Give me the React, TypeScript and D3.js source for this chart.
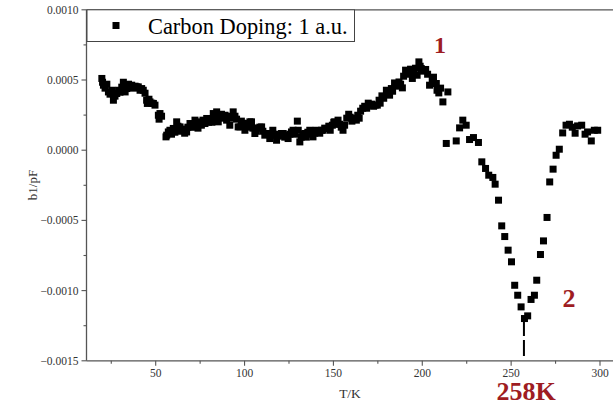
import React from "react";
import * as d3 from "d3";

const temps = [
  19.7, 20.1, 20.6, 21.5, 22.5, 23.4, 24.3, 25.3, 26.2, 27.1, 28.1, 29.1, 29.9, 30.9, 31.8, 32.8, 33.7, 34.7, 35.6, 36.5,
  37.5, 38.4, 39.3, 40.2, 41.2, 42.1, 43.0, 44.0, 44.9, 45.3, 46.2, 46.8, 47.8, 48.7, 49.6, 51.5, 51.9, 52.4, 53.3, 55.8,
  56.2, 57.1, 58.0, 58.9, 59.9, 60.8, 61.8, 62.5, 63.7, 64.5, 65.3, 66.3, 67.4, 68.1, 69.3, 70.1, 71.1, 72.1, 72.9, 73.8,
  74.9, 75.7, 76.6, 77.7, 78.7, 79.7, 80.5, 81.6, 82.4, 83.3, 84.3, 85.2, 86.1, 87.0, 87.8, 89.0, 89.9, 90.9, 91.7, 92.6,
  93.6, 94.6, 95.5, 96.4, 97.4, 98.2, 99.0, 100.2, 101.1, 102.1, 103.0, 103.9, 104.7, 105.8, 106.6, 107.5, 108.6, 109.6, 110.3, 111.4,
  112.4, 113.3, 114.2, 115.1, 115.9, 117.0, 118.0, 119.0, 119.8, 120.8, 121.7, 122.6, 123.6, 124.5, 125.5, 126.4, 127.3, 128.3, 129.7, 130.2,
  131.1, 131.9, 132.8, 133.9, 134.7, 135.6, 136.7, 137.5, 138.5, 139.5, 140.3, 141.3, 142.3, 143.3, 144.2, 145.1, 146.4, 147.4, 148.2, 149.4,
  150.2, 150.7, 151.6, 152.6, 153.5, 154.4, 155.4, 156.3, 157.5, 158.6, 159.4, 160.4, 161.4, 162.9, 163.7, 164.5, 165.3, 166.5, 167.6, 168.7,
  169.6, 170.4, 171.5, 172.6, 173.5, 174.7, 175.7, 176.3, 177.3, 178.3, 179.8, 180.8, 181.6, 182.6, 183.3, 184.4, 185.6, 186.9, 187.8, 188.8,
  189.5, 190.6, 191.7, 192.9, 193.4, 194.4, 195.1, 196.2, 197.1, 198.1, 198.8, 199.4, 200.7, 201.9, 203.0, 204.1, 205.6, 206.3, 207.9, 208.3,
  209.3, 210.3, 211.6, 213.5, 214.4, 219.1, 221.0, 222.8, 224.7, 226.6, 228.8, 231.6, 233.5, 235.6, 237.4, 239.7, 241.0, 242.9, 244.7, 246.4,
  248.3, 250.2, 252.0, 253.7, 255.6, 257.5, 259.3, 261.2, 263.1, 264.4, 266.5, 268.2, 270.2, 271.7, 273.6, 275.3, 277.1, 279.0, 280.9, 282.8,
  284.4, 286.0, 287.4, 289.7, 291.6, 293.0, 295.1, 296.8, 298.7,
];

// b1 values in units of 1e-4 pF
const b1e4 = [
  5.11, 4.84, 4.63, 4.42, 4.70, 4.15, 3.99, 4.27, 3.56, 3.85, 4.04, 4.27, 4.13, 4.49, 4.84, 4.15, 4.39, 4.70, 4.49, 4.63,
  4.42, 4.56, 4.51, 4.51, 4.27, 4.39, 4.27, 4.06, 3.56, 3.33, 3.63, 3.44, 3.35, 3.33, 3.21, 2.49, 2.21, 2.61, 2.42, 0.95,
  1.07, 1.30, 1.42, 1.14, 1.55, 1.28, 2.02, 1.71, 1.66, 1.35, 1.50, 1.21, 1.30, 1.64, 1.90, 1.64, 1.66, 2.14, 1.85, 1.57,
  2.02, 1.78, 2.14, 1.90, 2.26, 1.99, 2.21, 1.99, 2.61, 2.42, 2.73, 2.02, 2.35, 2.56, 2.28, 2.49, 2.14, 2.42, 1.78, 2.28,
  2.73, 2.42, 2.21, 1.66, 1.66, 2.07, 1.92, 1.42, 1.90, 1.64, 2.02, 2.02, 1.57, 1.19, 1.35, 1.57, 1.64, 1.66, 1.35, 1.07,
  1.19, 1.19, 0.83, 1.07, 1.42, 1.14, 0.71, 1.00, 1.07, 1.19, 1.19, 0.93, 1.07, 0.83, 1.14, 1.30, 1.42, 1.14, 2.07, 1.42,
  0.59, 0.93, 1.14, 1.19, 0.93, 1.28, 1.42, 1.14, 0.95, 1.21, 1.42, 1.30, 1.21, 1.42, 1.42, 1.57, 1.55, 1.71, 1.42, 1.78,
  1.99, 2.02, 1.85, 2.14, 1.85, 1.64, 1.42, 1.78, 2.28, 2.56, 2.35, 2.07, 2.28, 2.14, 2.49, 2.28, 2.78, 2.99, 3.13, 2.99,
  3.35, 3.21, 3.28, 3.13, 3.21, 3.21, 3.56, 3.35, 3.87, 3.70, 4.27, 4.06, 3.92, 4.39, 4.20, 4.79, 4.56, 4.86, 4.70, 4.44,
  5.27, 5.70, 5.41, 5.46, 5.77, 5.11, 5.48, 5.84, 5.34, 6.29, 5.98, 5.82, 5.63, 5.75, 5.41, 4.63, 4.99, 5.20, 4.75, 4.27,
  4.08, 4.42, 3.44, 0.48, 4.15, 0.66, 1.59, 2.14, 1.78, 0.76, 0.90, 0.55, -0.83, -1.30, -1.78, -1.94, -2.42, -3.56, -5.39, -6.15,
  -7.12, -7.95, -9.62, -10.33, -11.16, -11.99, -11.80, -10.63, -10.33, -9.26, -7.43, -6.46, -4.79, -2.26, -1.35, -0.36, 0.07, 1.23, 1.78, 1.85,
  1.64, 1.21, 1.73, 1.78, 1.14, 1.30, 0.66, 1.42, 1.42,
];

const yMajor = [0.001, 0.0005, 0, -0.0005, -0.001, -0.0015];
const yMinor = [0.00075, 0.00025, -0.00025, -0.00075, -0.00125];
const xMajor = [50, 100, 150, 200, 250, 300];
const xMinor = [25, 75, 125, 175, 225, 275, 325];
const yLabels = ["0.0010", "0.0005", "0.0000", "\u22120.0005", "\u22120.0010", "\u22120.0015"];
const legendLabel = "Carbon Doping: 1 a.u.";
const markerT = 257.2;

export default function App() {
  const W = 613, H = 406;
  const left = 86.5, top = 9.8, bottom = 360.8;
  const x = d3.scaleLinear().domain([50, 300]).range([155.7, 600]);
  const y = d3.scaleLinear().domain([0.001, -0.0015]).range([top, bottom]);
  const right = x(330);
  const axisColor = "#555";
  const red = "#9e1c22";
  const serif = "'Liberation Serif', 'Times New Roman', serif";
  const ms = 7;

  return (
    <svg width={W} height={H} style={{ position: "absolute", left: 0, top: 0, background: "#fff" }} fontFamily={serif}>
      <rect x={0} y={0} width={W} height={H} fill="#fff" />
      {/* frame */}
      <line x1={left} x2={right} y1={top} y2={top} stroke={axisColor} strokeWidth={1.3} />
      <line x1={left} x2={left} y1={top} y2={bottom} stroke={axisColor} strokeWidth={1.3} />
      <line x1={left} x2={right} y1={bottom} y2={bottom} stroke={axisColor} strokeWidth={1.3} />
      {/* y ticks */}
      {yMajor.map((v, i) => (
        <g key={"ym" + i}>
          <line x1={left - 5} x2={left} y1={y(v)} y2={y(v)} stroke={axisColor} strokeWidth={1.1} />
          <text x={left - 8} y={y(v)} dy="0.35em" textAnchor="end" fontSize={11.5} fill="#333">
            {yLabels[i]}
          </text>
        </g>
      ))}
      {yMinor.map((v, i) => (
        <line key={"yn" + i} x1={left - 3} x2={left} y1={y(v)} y2={y(v)} stroke={axisColor} strokeWidth={1.1} />
      ))}
      {/* x ticks */}
      {xMajor.map((t, i) => (
        <g key={"xm" + i}>
          <line x1={x(t)} x2={x(t)} y1={bottom} y2={bottom + 5} stroke={axisColor} strokeWidth={1.1} />
          <text x={x(t)} y={bottom + 16.5} textAnchor="middle" fontSize={11.5} fill="#333">
            {t}
          </text>
        </g>
      ))}
      {xMinor.map((t, i) => (
        <line key={"xn" + i} x1={x(t)} x2={x(t)} y1={bottom} y2={bottom + 3} stroke={axisColor} strokeWidth={1.1} />
      ))}
      {/* axis titles */}
      <text x={350} y={398} textAnchor="middle" fontSize={13.5} fill="#333">T/K</text>
      <text transform="translate(37,185) rotate(-90)" textAnchor="middle" fontSize={13} fill="#333">b1/pF</text>
      {/* points */}
      {temps.map((t, i) => (
        <rect key={"p" + i} x={x(t) - ms / 2} y={y(b1e4[i] * 1e-4) - ms / 2} width={ms} height={ms} fill="#000" />
      ))}
      {/* dashed marker */}
      <line x1={x(markerT)} x2={x(markerT)} y1={y(-0.00121)} y2={y(-0.00147)} stroke="#000" strokeWidth={2} strokeDasharray="16,4" />
      {/* legend */}
      <rect x={left + 0.5} y={top} width={354 - left} height={31.7} fill="#fff" stroke="#444" strokeWidth={1} />
      <rect x={116 - 3.5} y={25.5 - 3.5} width={7} height={7} fill="#000" />
      <text x={148} y={34} fontSize={22.4} fill="#000">{legendLabel}</text>
      {/* annotations */}
      <text x={440} y={53} textAnchor="middle" fontSize={24} fontWeight="bold" fill={red}>1</text>
      <text x={569} y={307} textAnchor="middle" fontSize={26} fontWeight="bold" fill={red}>2</text>
      <text x={526} y={400} textAnchor="middle" fontSize={26} fontWeight="bold" fill={red}>258K</text>
    </svg>
  );
}
